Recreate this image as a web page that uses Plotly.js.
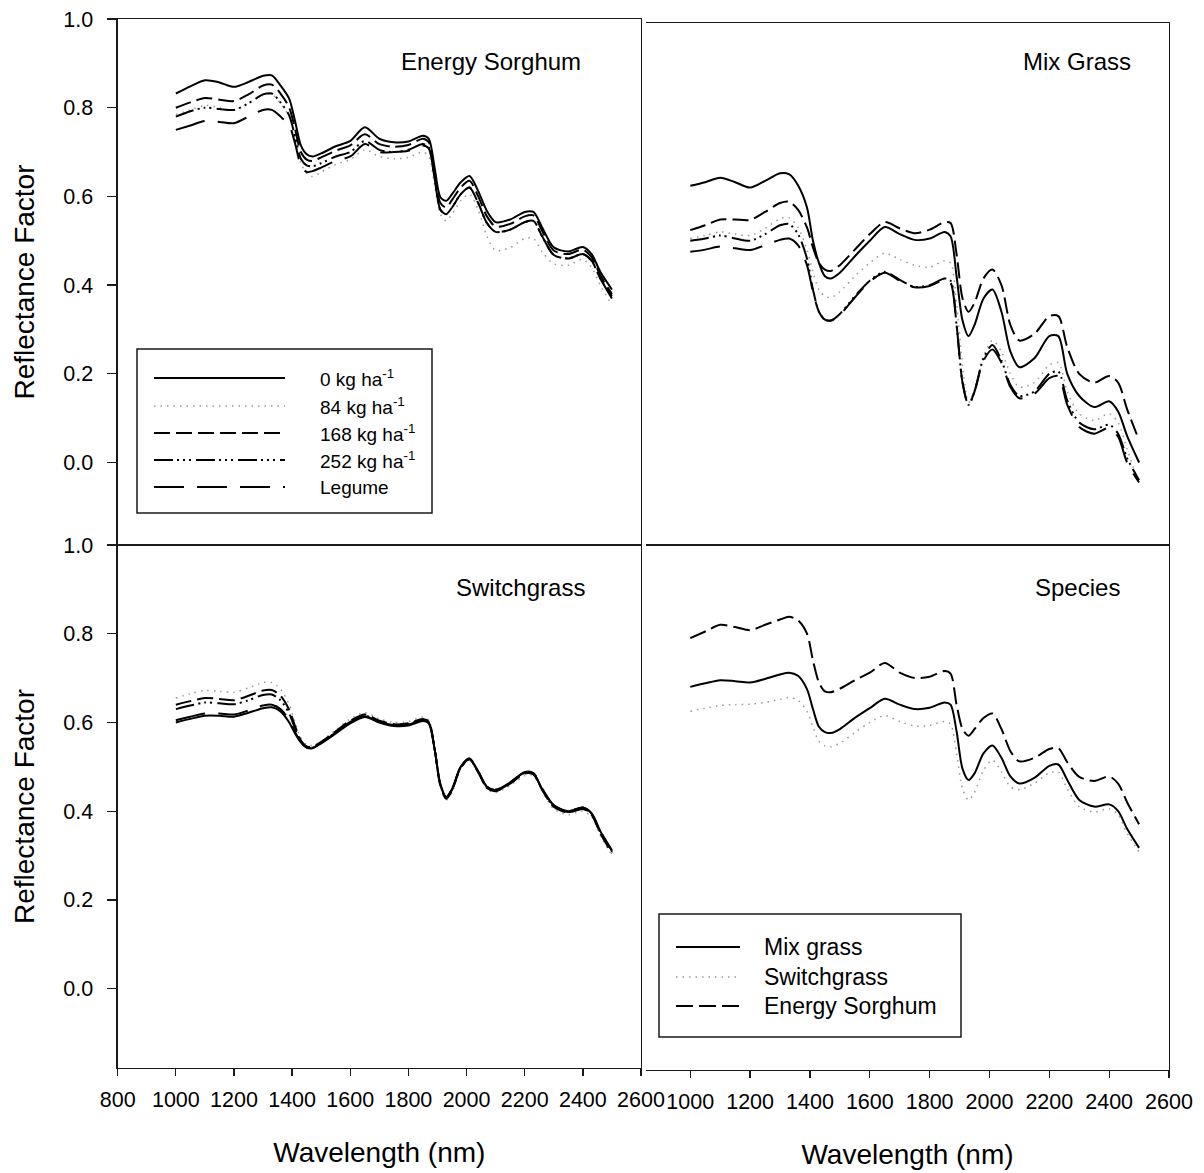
<!DOCTYPE html>
<html>
<head>
<meta charset="utf-8">
<script src="https://cdn.plot.ly/plotly-3.0.1.min.js"></script>
<style>
  html, body { margin: 0; padding: 0; background: #fff; }
  #chart { width: 1204px; height: 1173px; }
</style>
</head>
<body>
<div id="chart"></div>
<script>
// Wavelength grid (nm) shared by every spectrum
const wavelength = [1000,1050,1100,1150,1200,1250,1300,1330,1360,1390,1410,1430,1450,1470,1500,1550,1600,1650,1700,1750,1800,1850,1870,1890,1910,1930,1950,1980,2010,2040,2070,2100,2150,2200,2230,2260,2300,2350,2400,2430,2460,2500];

// Energy sorghum, by N rate
const sorghum0   = [0.832,0.848,0.862,0.857,0.847,0.858,0.872,0.873,0.850,0.820,0.770,0.715,0.695,0.690,0.697,0.713,0.725,0.756,0.730,0.722,0.724,0.737,0.730,0.665,0.598,0.590,0.605,0.632,0.646,0.612,0.567,0.542,0.548,0.565,0.565,0.530,0.485,0.476,0.486,0.470,0.430,0.390];
const sorghum84  = [0.785,0.795,0.805,0.800,0.795,0.810,0.828,0.830,0.810,0.780,0.730,0.675,0.652,0.645,0.655,0.672,0.683,0.705,0.690,0.685,0.688,0.700,0.690,0.625,0.560,0.545,0.560,0.590,0.605,0.570,0.510,0.478,0.485,0.505,0.505,0.475,0.448,0.445,0.458,0.440,0.400,0.355];
const sorghum168 = [0.800,0.812,0.822,0.818,0.815,0.830,0.850,0.852,0.832,0.800,0.752,0.700,0.683,0.680,0.688,0.703,0.715,0.740,0.718,0.712,0.716,0.730,0.722,0.655,0.585,0.575,0.592,0.620,0.635,0.600,0.555,0.532,0.538,0.555,0.557,0.522,0.478,0.470,0.480,0.463,0.422,0.380];
const sorghum252 = [0.780,0.792,0.800,0.797,0.795,0.810,0.830,0.832,0.812,0.782,0.735,0.685,0.670,0.668,0.675,0.690,0.700,0.725,0.705,0.700,0.705,0.718,0.710,0.640,0.570,0.560,0.575,0.605,0.620,0.585,0.540,0.520,0.525,0.542,0.545,0.510,0.468,0.460,0.470,0.455,0.415,0.375];
const sorghumLeg = [0.750,0.760,0.770,0.768,0.765,0.780,0.795,0.795,0.780,0.760,0.720,0.670,0.655,0.657,0.665,0.680,0.690,0.718,0.700,0.700,0.703,0.715,0.708,0.640,0.570,0.560,0.575,0.605,0.620,0.585,0.540,0.520,0.525,0.542,0.545,0.510,0.468,0.460,0.470,0.455,0.415,0.370];

// Mixed grass, by N rate
const mix0   = [0.624,0.632,0.642,0.632,0.620,0.635,0.652,0.650,0.625,0.575,0.500,0.450,0.420,0.415,0.428,0.465,0.500,0.531,0.515,0.502,0.505,0.520,0.510,0.420,0.320,0.285,0.310,0.370,0.390,0.340,0.250,0.215,0.235,0.285,0.285,0.200,0.150,0.125,0.138,0.115,0.060,0.000];
const mix84  = [0.505,0.512,0.520,0.515,0.512,0.528,0.550,0.552,0.530,0.480,0.430,0.390,0.375,0.372,0.385,0.420,0.450,0.472,0.458,0.445,0.440,0.455,0.450,0.360,0.220,0.135,0.165,0.240,0.275,0.250,0.200,0.170,0.180,0.220,0.225,0.160,0.110,0.095,0.110,0.090,0.030,-0.050];
const mix168 = [0.524,0.535,0.548,0.548,0.547,0.565,0.585,0.588,0.570,0.530,0.485,0.450,0.435,0.432,0.445,0.480,0.515,0.542,0.528,0.517,0.525,0.542,0.540,0.470,0.370,0.340,0.360,0.415,0.435,0.400,0.310,0.275,0.290,0.330,0.330,0.260,0.200,0.180,0.195,0.180,0.120,0.050];
const mix252 = [0.500,0.505,0.512,0.505,0.500,0.515,0.535,0.538,0.515,0.460,0.390,0.340,0.322,0.320,0.335,0.375,0.410,0.430,0.412,0.396,0.400,0.415,0.410,0.310,0.180,0.130,0.160,0.235,0.265,0.230,0.175,0.150,0.160,0.200,0.205,0.140,0.090,0.075,0.085,0.065,0.010,-0.040];
const mixLeg = [0.475,0.480,0.487,0.483,0.479,0.490,0.502,0.505,0.490,0.445,0.385,0.340,0.322,0.320,0.333,0.372,0.408,0.428,0.410,0.395,0.398,0.412,0.405,0.310,0.180,0.130,0.160,0.230,0.255,0.225,0.170,0.145,0.155,0.190,0.195,0.130,0.080,0.065,0.078,0.058,0.000,-0.045];

// Switchgrass, by N rate
const switch0   = [0.600,0.608,0.615,0.615,0.613,0.622,0.632,0.634,0.625,0.600,0.575,0.555,0.543,0.542,0.553,0.575,0.598,0.612,0.600,0.592,0.593,0.603,0.598,0.540,0.460,0.432,0.450,0.500,0.518,0.490,0.455,0.448,0.465,0.487,0.485,0.450,0.413,0.400,0.408,0.395,0.355,0.310];
const switch84  = [0.655,0.665,0.672,0.670,0.668,0.678,0.690,0.690,0.675,0.640,0.600,0.565,0.550,0.548,0.558,0.583,0.608,0.622,0.608,0.600,0.602,0.612,0.605,0.540,0.455,0.425,0.443,0.495,0.515,0.485,0.450,0.442,0.458,0.480,0.480,0.445,0.405,0.392,0.400,0.387,0.345,0.300];
const switch168 = [0.640,0.648,0.655,0.653,0.650,0.660,0.672,0.673,0.660,0.628,0.592,0.560,0.546,0.545,0.556,0.580,0.604,0.618,0.604,0.596,0.598,0.608,0.602,0.540,0.458,0.428,0.447,0.498,0.517,0.488,0.452,0.445,0.462,0.485,0.483,0.448,0.410,0.397,0.405,0.392,0.350,0.305];
const switch252 = [0.630,0.638,0.645,0.643,0.641,0.650,0.662,0.663,0.650,0.620,0.586,0.557,0.545,0.543,0.554,0.578,0.601,0.615,0.602,0.594,0.596,0.606,0.600,0.540,0.460,0.430,0.448,0.498,0.517,0.488,0.453,0.446,0.463,0.486,0.484,0.449,0.411,0.398,0.406,0.393,0.352,0.308];
const switchLeg = [0.605,0.613,0.620,0.620,0.618,0.627,0.638,0.640,0.630,0.605,0.578,0.556,0.544,0.543,0.554,0.577,0.600,0.614,0.601,0.593,0.595,0.605,0.600,0.540,0.460,0.432,0.450,0.500,0.519,0.490,0.455,0.448,0.465,0.488,0.486,0.451,0.413,0.400,0.408,0.395,0.355,0.312];

// Species means
const speciesMix     = [0.680,0.688,0.695,0.693,0.690,0.698,0.708,0.712,0.705,0.675,0.630,0.590,0.578,0.576,0.585,0.610,0.632,0.653,0.640,0.630,0.633,0.645,0.640,0.580,0.495,0.470,0.485,0.530,0.548,0.520,0.478,0.462,0.475,0.502,0.505,0.470,0.425,0.410,0.415,0.400,0.360,0.317];
const speciesSwitch  = [0.625,0.632,0.638,0.640,0.641,0.645,0.652,0.656,0.650,0.625,0.590,0.557,0.547,0.545,0.553,0.577,0.600,0.615,0.602,0.592,0.593,0.602,0.596,0.530,0.450,0.425,0.442,0.492,0.515,0.488,0.455,0.448,0.463,0.486,0.488,0.450,0.410,0.398,0.405,0.392,0.350,0.308];
const speciesSorghum = [0.790,0.805,0.820,0.815,0.808,0.820,0.832,0.838,0.830,0.800,0.740,0.690,0.670,0.668,0.676,0.695,0.712,0.734,0.712,0.700,0.703,0.716,0.710,0.640,0.585,0.570,0.585,0.610,0.620,0.585,0.535,0.512,0.520,0.540,0.542,0.510,0.477,0.468,0.478,0.462,0.420,0.370];

const rateLabels    = ['0 kg ha<sup>-1</sup>', '84 kg ha<sup>-1</sup>', '168 kg ha<sup>-1</sup>', '252 kg ha<sup>-1</sup>', 'Legume'];
const speciesLabels = ['Mix grass', 'Switchgrass', 'Energy Sorghum'];
const panelTitles   = ['Energy Sorghum', 'Mix Grass', 'Switchgrass', 'Species'];
const yTicks  = [0, 0.2, 0.4, 0.6, 0.8, 1.0];
const yTickText = ['0.0', '0.2', '0.4', '0.6', '0.8', '1.0'];
const xTicksLeft  = [800, 1000, 1200, 1400, 1600, 1800, 2000, 2200, 2400, 2600];
const xTicksRight = [1000, 1200, 1400, 1600, 1800, 2000, 2200, 2400, 2600];

// Line styles for the N-rate treatments
const rateStyles = [
  { color: '#000', width: 2,   dash: 'solid' },
  { color: '#999', width: 1.5, dash: '1.5px,5px' },
  { color: '#000', width: 2,   dash: '16px,6px' },
  { color: '#000', width: 2,   dash: '19px,4px,2px,4px,2px,4px,2px,5px' },
  { color: '#000', width: 2,   dash: '30px,13px' }
];
const speciesStyles = [
  { color: '#000', width: 2,   dash: 'solid' },
  { color: '#999', width: 1.5, dash: '1.5px,5px' },
  { color: '#000', width: 2,   dash: '17px,6px' }
];

const FONT = 'Liberation Sans, Arial, Helvetica, sans-serif';
const W = 1204, H = 1173;
const px = v => v / W;          // pixel x -> paper
const py = v => 1 - v / H;      // pixel y -> paper

function spectrumTraces(seriesList, labels, styles, xa, ya) {
  return seriesList.map((ys, i) => ({
    type: 'scatter', mode: 'lines',
    x: wavelength, y: ys, name: labels[i],
    xaxis: xa, yaxis: ya, showlegend: false, hoverinfo: 'skip',
    line: { color: styles[i].color, width: styles[i].width, dash: styles[i].dash, shape: 'spline', smoothing: 0.8 }
  }));
}

const traces = [].concat(
  spectrumTraces([sorghum0, sorghum84, sorghum168, sorghum252, sorghumLeg], rateLabels, rateStyles, 'x', 'y'),
  spectrumTraces([mix0, mix84, mix168, mix252, mixLeg], rateLabels, rateStyles, 'x2', 'y2'),
  spectrumTraces([switch0, switch84, switch168, switch252, switchLeg], rateLabels, rateStyles, 'x3', 'y3'),
  spectrumTraces([speciesMix, speciesSwitch, speciesSorghum], speciesLabels, speciesStyles, 'x4', 'y4')
);

const LINE = '#1a1a1a';
const tickFont = { family: FONT, size: 21.5, color: '#000' };
const titleFont = { family: FONT, size: 28, color: '#000' };

const leftX  = [px(117.7), px(641)];
const rightX = [px(646), px(1169)];

const baseAxis = {
  showgrid: false, zeroline: false, showline: true, linecolor: LINE, linewidth: 1.3,
  tickcolor: LINE, tickwidth: 1.3, tickfont: tickFont, automargin: false, fixedrange: true
};

const layout = {
  width: W, height: H,
  margin: { l: 0, r: 0, t: 0, b: 0 },
  paper_bgcolor: '#fff', plot_bgcolor: 'rgba(0,0,0,0)',
  showlegend: false,
  font: { family: FONT, color: '#000' },

  // Energy sorghum (top left)
  xaxis:  Object.assign({}, baseAxis, { domain: leftX, range: [800, 2600], anchor: 'y', mirror: true, ticks: '', showticklabels: false }),
  yaxis:  Object.assign({}, baseAxis, { domain: [py(545), py(19)], range: [-0.186, 1.0], anchor: 'x', mirror: true,
           ticks: 'outside', ticklen: 9, tickvals: yTicks, ticktext: yTickText, ticklabelstandoff: 10,
           title: { text: 'Reflectance Factor', font: titleFont, standoff: 20 } }),

  // Mixed grass (top right)
  xaxis2: Object.assign({}, baseAxis, { domain: rightX, range: [852, 2600], anchor: 'y2', mirror: true, ticks: '', showticklabels: false }),
  yaxis2: Object.assign({}, baseAxis, { domain: [py(545), py(23)], range: [-0.186, 0.991], anchor: 'x2', side: 'right', mirror: false, ticks: '', showticklabels: false }),

  // Switchgrass (bottom left)
  xaxis3: Object.assign({}, baseAxis, { domain: leftX, range: [800, 2600], anchor: 'y3', mirror: true,
           ticks: 'outside', ticklen: 7, tickvals: xTicksLeft, ticktext: xTicksLeft.map(String), ticklabelstandoff: 5,
           title: { text: 'Wavelength (nm)', font: titleFont, standoff: 31 } }),
  yaxis3: Object.assign({}, baseAxis, { domain: [py(1068), py(545)], range: [-0.179, 1.0], anchor: 'x3', mirror: true,
           ticks: 'outside', ticklen: 9, tickvals: yTicks, ticktext: yTickText, ticklabelstandoff: 10,
           title: { text: 'Reflectance Factor', font: titleFont, standoff: 20 } }),

  // Species (bottom right)
  xaxis4: Object.assign({}, baseAxis, { domain: rightX, range: [852, 2600], anchor: 'y4', mirror: true,
           ticks: 'outside', ticklen: 7, tickvals: xTicksRight, ticktext: xTicksRight.map(String), ticklabelstandoff: 5,
           title: { text: 'Wavelength (nm)', font: titleFont, standoff: 31 } }),
  yaxis4: Object.assign({}, baseAxis, { domain: [py(1070), py(545)], range: [-0.184, 1.0], anchor: 'x4', side: 'right', mirror: false, ticks: '', showticklabels: false }),

  shapes: [],
  annotations: []
};

// Panel names
const panelPos = [[583, 62], [1133, 62], [587, 587], [1122, 587]];
panelTitles.forEach((t, i) => {
  layout.annotations.push({
    text: t, xref: 'paper', yref: 'paper', x: px(panelPos[i][0]), y: py(panelPos[i][1]),
    xanchor: 'right', yanchor: 'middle', showarrow: false, font: { family: FONT, size: 24, color: '#000' }
  });
});

// Key boxes: frame, sample line and label for each entry
function addKey(box, sampleX, textX, rowsY, labels, styles, fontSize) {
  layout.shapes.push({ type: 'rect', xref: 'paper', yref: 'paper',
    x0: px(box[0]), x1: px(box[1]), y0: py(box[3]), y1: py(box[2]),
    line: { color: LINE, width: 1.5 }, fillcolor: 'rgba(255,255,255,0)' });
  labels.forEach((lab, i) => {
    layout.shapes.push({ type: 'line', xref: 'paper', yref: 'paper',
      x0: px(sampleX[0]), x1: px(sampleX[1]), y0: py(rowsY[i]), y1: py(rowsY[i]),
      line: { color: styles[i].color, width: styles[i].width, dash: styles[i].dash } });
    layout.annotations.push({ text: lab, xref: 'paper', yref: 'paper', x: px(textX), y: py(rowsY[i]),
      xanchor: 'left', yanchor: 'middle', showarrow: false, font: { family: FONT, size: fontSize, color: '#000' } });
  });
}
addKey([137, 432, 349, 513], [154, 285], 318, [378, 406, 433, 460, 487], rateLabels, rateStyles, 19);
addKey([659, 961, 914, 1037], [676, 740], 762, [947, 977, 1006], speciesLabels, speciesStyles, 23);

Plotly.newPlot('chart', traces, layout, { staticPlot: true, displayModeBar: false });
</script>
</body>
</html>
